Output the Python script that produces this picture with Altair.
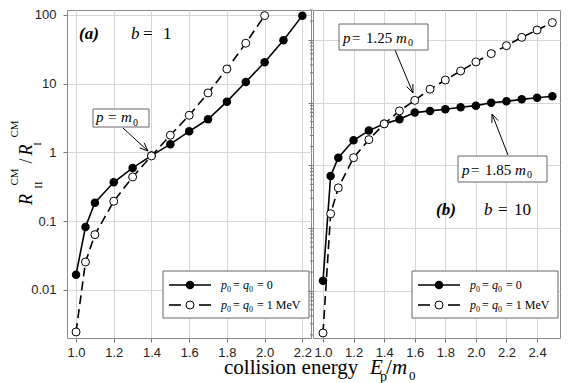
import math
import altair as alt
import pandas as pd

# ---------------- data ----------------
x_left_closed = [1.0, 1.05, 1.1, 1.2, 1.3, 1.4, 1.5, 1.6, 1.7, 1.8, 1.9, 2.0, 2.1, 2.2]
y_left_closed = [0.0167, 0.0824, 0.186, 0.368, 0.595, 0.90, 1.32, 2.03, 3.04, 5.48, 10.6, 20.5, 42.9, 97.7]
x_left_open = [1.0, 1.05, 1.1, 1.2, 1.3, 1.4, 1.5, 1.6, 1.7, 1.8, 1.9, 2.0]
y_left_open = [0.00245, 0.0255, 0.0637, 0.195, 0.44, 0.89, 1.78, 3.47, 7.33, 16.4, 38.8, 97.7]

x_right = [1.0, 1.05, 1.1, 1.2, 1.3, 1.4, 1.5, 1.6, 1.7, 1.8, 1.9, 2.0, 2.1, 2.2, 2.3, 2.4, 2.5]
y_right_closed = [0.0145, 0.68, 1.33, 2.52, 3.59, 4.6, 5.45, 6.95, 7.4, 7.86, 8.45, 8.97, 10.0, 10.5, 11.3, 12.0, 12.7]
y_right_open = [0.00214, 0.17, 0.44, 1.33, 2.58, 4.6, 7.4, 10.9, 16.4, 23.0, 32.0, 44.6, 60.5, 81.0, 110.0, 144.0, 189.0]

x_ticks_left = [1.0, 1.2, 1.4, 1.6, 1.8, 2.0, 2.2]
x_ticks_right = [1.0, 1.2, 1.4, 1.6, 1.8, 2.0, 2.2, 2.4]
y_ticks = [0.01, 0.1, 1, 10, 100]

Y_DOM_LEFT = [0.002, 118]
Y_DOM_RIGHT = [0.00178, 300]
y_minor_right = [k * 10.0 ** e for e in range(-3, 3) for k in range(2, 10)
                 if Y_DOM_RIGHT[0] <= k * 10.0 ** e <= Y_DOM_RIGHT[1]]

series_closed = "p0 = q0 = 0"
series_open = "p0 = q0 = 1 MeV"

SERIF = "Liberation Serif"
SANS = "Liberation Sans"
one = pd.DataFrame({"k": [0]})


# ---------------- helpers ----------------
def T(s, x, y, size=15, style="normal", weight="normal", align="left",
      baseline="alphabetic", angle=0, font=SERIF):
    return alt.Chart(one).mark_text(
        text=s, font=font, fontSize=size, fontStyle=style, fontWeight=weight,
        align=align, baseline=baseline, angle=angle, color="black"
    ).encode(x=alt.value(x), y=alt.value(y))


def R(x1, y1, x2, y2, width=1.0, color="black"):
    return alt.Chart(one).mark_rule(color=color, strokeWidth=width).encode(
        x=alt.value(x1), y=alt.value(y1), x2=alt.value(x2), y2=alt.value(y2))


def BOX(x1, y1, x2, y2):
    return alt.Chart(one).mark_rect(fill="white", stroke="#666", strokeWidth=1).encode(
        x=alt.value(x1), y=alt.value(y1), x2=alt.value(x2), y2=alt.value(y2))


def ARROW(x1, y1, x2, y2, head=9, ang=22):
    L = math.hypot(x2 - x1, y2 - y1)
    dx, dy = (x2 - x1) / L, (y2 - y1) / L
    out = [R(x1, y1, x2, y2)]
    for s in (1, -1):
        a = math.radians(ang) * s
        rx = dx * math.cos(a) - dy * math.sin(a)
        ry = dx * math.sin(a) + dy * math.cos(a)
        out.append(R(x2, y2, x2 - head * rx, y2 - head * ry))
    return out


def DOT(x, y, filled):
    if filled:
        return alt.Chart(one).mark_circle(size=72, color="black", opacity=1).encode(
            x=alt.value(x), y=alt.value(y))
    return alt.Chart(one).mark_circle(size=64, fill="white", stroke="black",
                                      strokeWidth=1, opacity=1).encode(
        x=alt.value(x), y=alt.value(y))


def LEGEND(bx, by):
    out = [BOX(bx, by, bx + 146, by + 47)]
    rows = [(by + 14, True, "= 0"), (by + 34, False, "= 1 MeV")]
    for yy, filled, val in rows:
        if filled:
            out.append(R(bx + 6, yy, bx + 48, yy, width=1.6))
        else:
            out.append(R(bx + 6, yy, bx + 18, yy, width=1.6))
            out.append(R(bx + 36, yy, bx + 48, yy, width=1.6))
        out.append(DOT(bx + 27, yy, filled))
        t = bx + 58
        b = yy + 4
        out += [
            T("p", t, b, 12, "italic"),
            T("0", t + 6, b + 3, 8),
            T("=", t + 12, b, 12),
            T("q", t + 22, b, 12, "italic"),
            T("0", t + 28, b + 3, 8),
            T(val, t + 36, b, 12),
        ]
    return out


def PLABEL(bx, by, num):
    # box 89 x 26 with "p = num m0"
    out = [BOX(bx, by, bx + 89, by + 26)]
    b = by + 19
    out += [
        T("p", bx + 4, b, 15, "italic"),
        T("=", bx + 13, b, 15),
        T(num, bx + 27, b, 15),
        T("m", bx + 57, b, 15, "italic"),
        T("0", bx + 69, b + 3, 10),
    ]
    return out


def panel(xc, yc, xo, yo, xdom, ydom, xticks, width, ylabels, extras):
    dfc = pd.DataFrame({"x": xc, "y": yc, "s": series_closed})
    dfo = pd.DataFrame({"x": xo, "y": yo, "s": series_open})
    xsc = alt.Scale(domain=xdom, nice=False, zero=False)
    ysc = alt.Scale(type="log", domain=ydom, nice=False)
    xax = alt.Axis(values=xticks, format=".1f", title=None, grid=True,
                   gridColor="#d6d6d6", tickSize=4, tickColor="#777",
                   labelPadding=4, domain=False, labelFont=SANS, labelFontSize=13,
                   labelColor="#222", labelFlush=False, labelOverlap=False)
    yax = alt.Axis(values=y_ticks, format="~g", title=None, grid=True,
                   gridColor="#d6d6d6", tickSize=4 if ylabels else 5, tickColor="#777",
                   labelPadding=7, domain=False, labels=ylabels, labelFont=SANS,
                   labelFontSize=13, labelColor="#222", labelOverlap=False)

    def enc(ch):
        return ch.encode(x=alt.X("x:Q", scale=xsc, axis=xax),
                         y=alt.Y("y:Q", scale=ysc, axis=yax))

    layers = [
        enc(alt.Chart(dfc).mark_line(color="black", strokeWidth=1.6)),
        enc(alt.Chart(dfo).mark_line(color="black", strokeWidth=1.6, strokeDash=[9, 5])),
        enc(alt.Chart(dfc).mark_circle(size=72, color="black", opacity=1)),
        enc(alt.Chart(dfo).mark_circle(size=64, fill="white", stroke="black",
                                       strokeWidth=1, opacity=1)),
    ]
    layers += extras(ysc, yax)
    return alt.layer(*layers).properties(width=width, height=328)


def left_extras(ysc, yax):
    out = []
    out += [T("(a)", 12, 29, 17, "italic", "bold"),
            T("b", 64, 29, 17, "italic"), T("=", 76, 29, 17), T("1", 96, 29, 17)]
    out += ARROW(56, 118, 81, 141)
    out += [BOX(26, 99, 82, 117),
            T("p", 29, 112, 15, "italic"), T("=", 41, 112, 15),
            T("m", 54, 112, 15, "italic"), T("0", 66, 116, 10)]
    out += LEGEND(96, 261)
    # y-axis title  R_II^CM / R_I^CM
    out += [
        T("R", -40.5, 189.5, 18, "italic", align="center", baseline="middle", angle=270),
        T("II", -28, 175, 11, align="center", baseline="middle", angle=270),
        T("CM", -52.5, 167, 11, align="center", baseline="middle", angle=270),
        T("/", -40, 151, 18, align="center", baseline="middle", angle=270),
        T("R", -40.5, 140, 18, "italic", align="center", baseline="middle", angle=270),
        T("I", -29, 134, 11, align="center", baseline="middle", angle=270),
        T("CM", -52.5, 119, 11, align="center", baseline="middle", angle=270),
    ]
    # x-axis title  collision energy E_p / m_0
    out += [
        T("collision energy", 157, 364, 21),
        T("E", 303, 364, 21, "italic"),
        T("p", 313, 371, 14),
        T("/", 319, 364, 21),
        T("m", 325, 364, 21, "italic"),
        T("0", 342, 370, 13),
    ]
    return out


def right_extras(ysc, yax):
    minor = pd.DataFrame({"y": y_minor_right})
    out = [alt.Chart(minor).mark_rule(color="#777", strokeWidth=1).encode(
        y=alt.Y("y:Q", scale=ysc, axis=yax), x=alt.value(0), x2=alt.value(-3))]
    out += [T("(b)", 123, 205, 17, "italic", "bold"),
            T("b", 171, 205, 17, "italic"), T("=", 185, 205, 17), T("10", 201, 205, 17)]
    out += ARROW(82, 40, 100, 83)
    out += PLABEL(26, 14, "1.25")
    out += ARROW(195, 145, 179, 104)
    out += PLABEL(145, 146, "1.85")
    out += LEGEND(99, 261)
    return out


left = panel(x_left_closed, y_left_closed, x_left_open, y_left_open,
             [0.952, 2.246], Y_DOM_LEFT, x_ticks_left, 244, True, left_extras)
right = panel(x_right, y_right_closed, x_right, y_right_open,
              [0.9346, 2.55], Y_DOM_RIGHT, x_ticks_right, 247, False, right_extras)

chart = alt.hconcat(left, right, spacing=2, bounds="flush").properties(
    padding=0, background="white"
).configure_view(stroke="#888", strokeWidth=1)

chart.save("out.html", embed_options={"renderer": "svg", "actions": False})
